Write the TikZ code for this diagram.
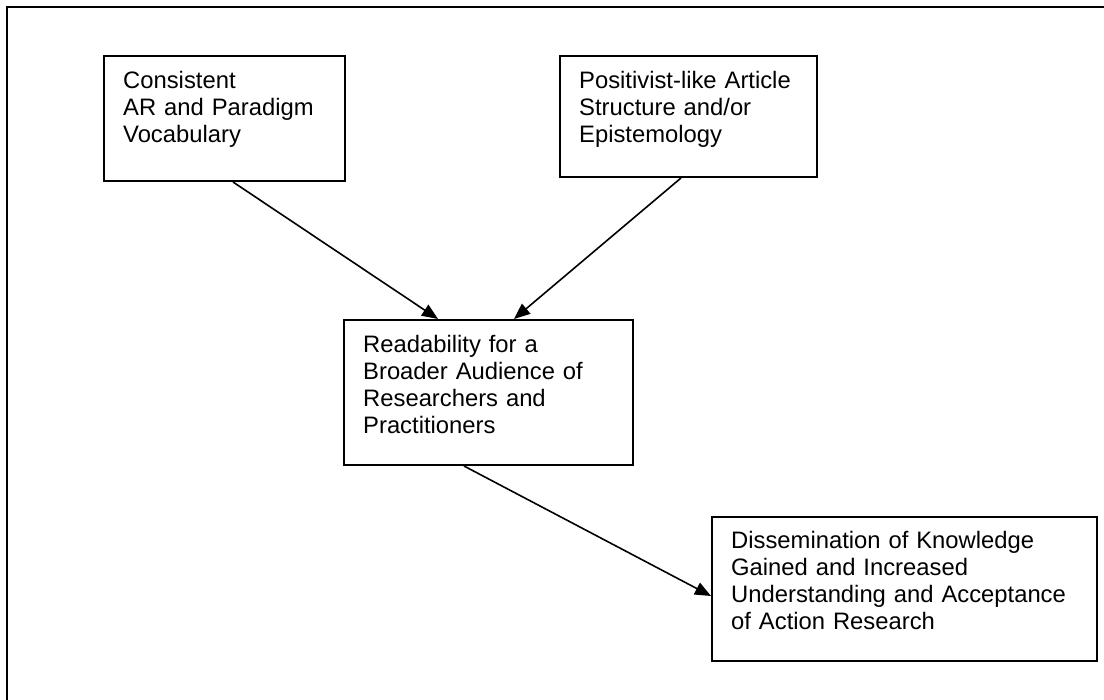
\documentclass[tikz,border=0pt]{standalone}
\usepackage{fontspec}
\setmainfont{Liberation Sans}
\usepackage{tikz}
\usetikzlibrary{arrows.meta, positioning, calc}
\tikzset{
  font=\fontsize{23.8}{27}\selectfont,
  conceptbox/.style={
    rectangle, draw=black, line width=2pt, anchor=north west,
    inner sep=0pt
  },
  conceptlabel/.style={
    anchor=base west, inner sep=0pt, align=left, text width=#1
  },
  causeline/.style={
    draw=black, line width=1.6pt, -{Triangle[length=16pt, width=13pt]}
  }
}

\begin{document}
\begin{tikzpicture}[x=1pt, y=-1pt]

  \useasboundingbox (0,0) rectangle (1104,700);

  % Frame (cut off at right and bottom)
  \draw[line width=2.2pt] (7,720) -- (7,7) -- (1120,7);

  % Boxes
  \node[conceptbox, minimum width=241pt, minimum height=125pt] (vocab) at (103,55) {};
  \node[conceptlabel=215pt] (vocab_text) at (123,89) {Consistent\\AR and Paradigm\\Vocabulary};

  \node[conceptbox, minimum width=257pt, minimum height=121pt] (positivist) at (559,55) {};
  \node[conceptlabel=235pt] (positivist_text) at (579,89) {Positivist-like Article\\Structure and/or\\Epistemology};

  \node[conceptbox, minimum width=289pt, minimum height=145pt] (readability) at (343,319) {};
  \node[conceptlabel=266pt] (readability_text) at (363,353) {Readability for a\\Broader Audience of\\Researchers and\\Practitioners};

  \node[conceptbox, minimum width=385pt, minimum height=144pt] (dissemination) at (711,516) {};
  \node[conceptlabel=362pt] (dissemination_text) at (731,549) {Dissemination of Knowledge\\Gained and Increased\\Understanding and Acceptance\\of Action Research};

  % Connectors
  \draw[causeline] ([xshift=8.5pt]vocab.south) -- ([xshift=-50.5pt]readability.north);
  \draw[causeline] ([xshift=-7.5pt]positivist.south) -- ([xshift=25.5pt]readability.north);
  \draw[causeline] ([xshift=-24.5pt]readability.south) -- ([yshift=-7pt]dissemination.west);

\end{tikzpicture}
\end{document}
